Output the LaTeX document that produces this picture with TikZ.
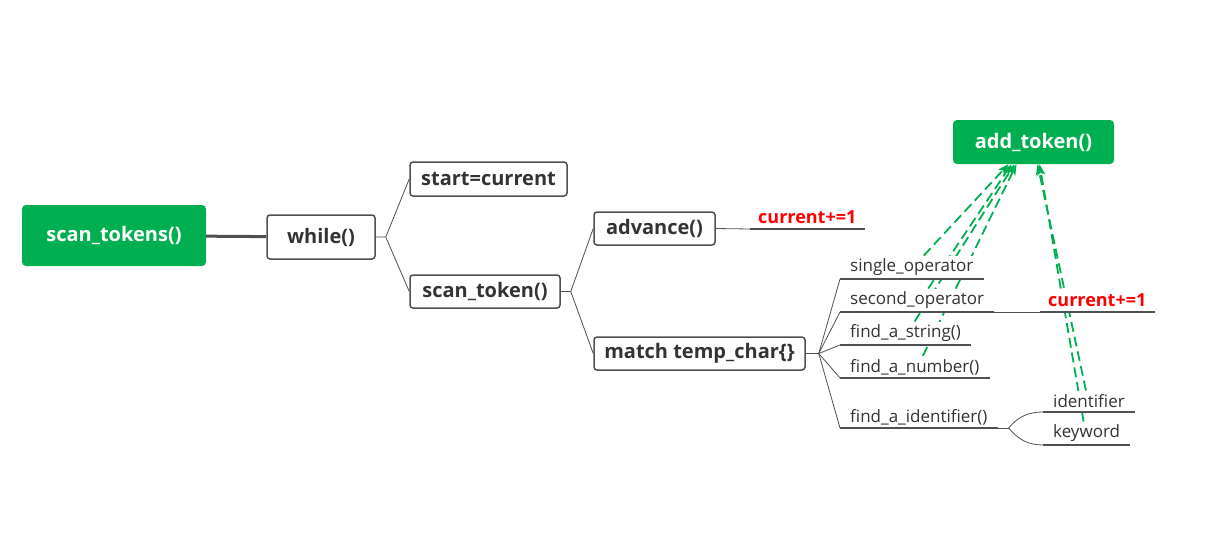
\documentclass[tikz,border=0pt]{standalone}
\usepackage{fontspec}
\setmainfont{Open Sans}
\usetikzlibrary{backgrounds,arrows.meta}
\definecolor{mindgreen}{RGB}{0,176,80}
\definecolor{boxgray}{RGB}{80,80,80}
\definecolor{txtgray}{RGB}{51,51,51}

\begin{document}
\begin{tikzpicture}[x=1pt, y=-1pt,
  every node/.style={font=\fontsize{17}{20}\selectfont, text=txtgray},
  root/.style={fill=mindgreen, rounded corners=4pt, text=white, font=\fontsize{20}{24}\selectfont\bfseries, inner sep=0pt},
  topic/.style={draw=boxgray, line width=1.5pt, fill=white, rounded corners=3pt, font=\fontsize{20}{24}\selectfont\bfseries, inner sep=0pt},
  leaf/.style={fill=white, inner xsep=10pt, inner ysep=3pt, anchor=south west},
  note/.style={leaf, text=red, font=\fontsize{18}{21}\selectfont\bfseries, inner xsep=8pt, inner ysep=5pt},
  branch/.style={draw=boxgray, line width=0.8pt},
  uline/.style={draw=boxgray, line width=1.6pt},
  rel/.style={draw=mindgreen, line width=1.8pt, dash pattern=on 10pt off 5pt, -{Stealth[length=11pt, width=8pt, inset=3pt]}}
]
\useasboundingbox (0,0) rectangle (1222,555);

% main topics
\node[root, minimum width=184pt, minimum height=61pt] (scan) at (114,235.5) {scan\_tokens()};
\node[topic, minimum width=108pt, minimum height=44pt] (while) at (321,237) {while()};
\node[topic, minimum width=157pt, minimum height=34pt] (start) at (488.5,179) {start=current};
\node[topic, minimum width=150pt, minimum height=33pt] (scantok) at (485,291.5) {scan\_token()};
\node[topic, minimum width=121pt, minimum height=33pt] (advance) at (654.5,228.5) {advance()};
\node[topic, minimum width=211pt, minimum height=33pt] (match) at (699.5,353.5) {match temp\_char\{\}};
\node[root, minimum width=161pt, minimum height=44pt] (add) at (1033.5,142) {add\_token()};

% leaves
\node[note] (cur1) at (750,229) {current+=1};
\node[leaf] (single) at (840,279) {single\_operator};
\node[leaf] (second) at (840,312) {second\_operator};
\node[leaf] (string) at (840,345) {find\_a\_string()};
\node[leaf] (number) at (840,378) {find\_a\_number()};
\node[leaf] (ident) at (840,428) {find\_a\_identifier()};
\node[note] (cur2) at (1040,312) {current+=1};
\node[leaf, inner ysep=4pt] (idname) at (1043,412) {identifier};
\node[leaf] (keyword) at (1043,445) {keyword};

\foreach \n in {cur1,single,second,string,number,ident,cur2,idname,keyword}
  \draw[uline] (\n.south west) -- (\n.south east);

% branches
\draw[line width=3pt, draw=boxgray] (scan) -- (while);
\coordinate (wfork) at ([xshift=10pt]while.east);
\draw[branch] (while.east) -- (wfork) (wfork) -- (start.west) (wfork) -- (scantok.west);
\coordinate (sfork) at ([xshift=10pt]scantok.east);
\draw[branch] (scantok.east) -- (sfork) (sfork) -- (advance.west) (sfork) -- (match.west);
\draw[branch] (advance.east) -- (cur1.south west);
\coordinate (mfork) at ([xshift=13pt]match.east);
\draw[branch] (match.east) -- (mfork);
\foreach \n in {single,second,string,number,ident}
  \draw[branch] (mfork) -- (\n.south west);
\draw[branch] (second.south east) -- (cur2.south west);
\coordinate (ifork) at ([xshift=11pt]ident.south east);
\draw[branch] (ident.south east) -- (ifork);
\draw[branch] (ifork) to[out=50, in=180] (idname.south west);
\draw[branch] (ifork) to[out=-50, in=180] (keyword.south west);

% relations
\begin{scope}[on background layer]
\draw[rel] ([xshift=12pt]single.north) -- ([xshift=-25pt]add.south);
\draw[rel] ([xshift=11pt]second.north) -- ([xshift=-22pt]add.south);
\draw[rel] ([xshift=9pt]string.north) -- ([xshift=-19pt]add.south);
\draw[rel] ([xshift=8pt]number.north) -- ([xshift=-17pt]add.south);
\draw[rel] ([xshift=-3pt]idname.north) -- ([xshift=4pt]add.south);
\draw[rel] ([xshift=-3pt]keyword.north) -- ([xshift=6pt]add.south);
\end{scope}
\end{tikzpicture}
\end{document}
